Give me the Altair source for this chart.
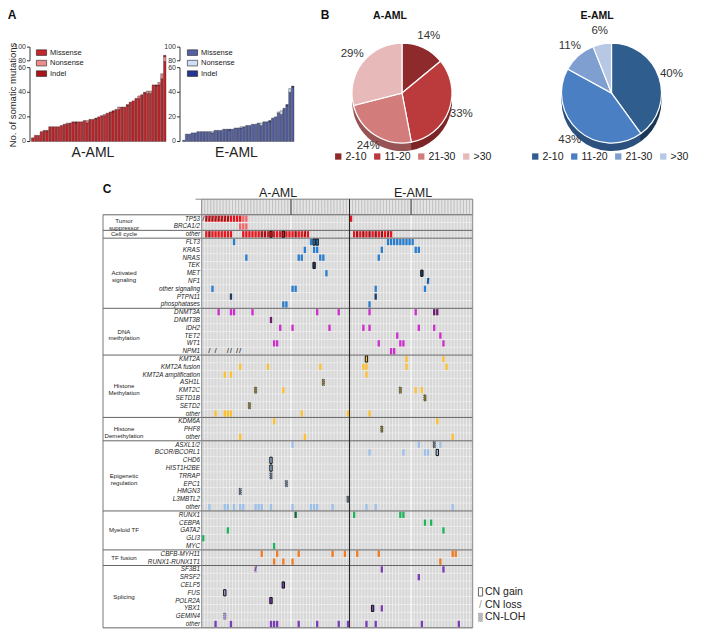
import altair as alt
import pandas as pd

alt.data_transformers.disable_max_rows()

# ---------------- Panel A: somatic mutations per patient ----------------
a_total = [3, 5, 5, 8, 9, 9, 12, 12, 12, 12, 13, 14, 15, 15, 16, 16, 16, 16, 17, 17, 18, 18, 19, 20,
           21, 22, 23, 24, 25, 26, 28, 28, 28, 30, 32, 33, 35, 37, 38, 40, 41, 41, 46, 46, 48, 55, 88]
a_nonsense = [0, 0, 0, 0, 0, 0, 0, 0, 0, 0, 0, 0, 1, 0, 0, 0, 0, 0, 0, 2, 0, 0, 0, 0, 0, 1, 0, 0, 0, 0,
              2, 0, 0, 0, 0, 0, 0, 2, 0, 0, 2, 2, 0, 0, 2, 4, 8]
a_indel = [0, 0, 0, 0, 0, 1, 0, 0, 0, 0, 0, 0, 0, 0, 0, 1, 0, 0, 0, 0, 0, 0, 1, 0, 0, 0, 0, 0, 1, 0,
           0, 0, 0, 1, 0, 0, 0, 0, 0, 1, 0, 0, 0, 1, 0, 0, 2]
e_total = [1, 6, 6, 7, 7, 8, 8, 8, 8, 8, 8, 9, 9, 9, 10, 10, 10, 10, 11, 11, 12, 12, 13, 13, 14, 14,
           15, 15, 16, 16, 17, 19, 20, 24, 25, 27, 30, 43, 45]
e_nonsense = [0, 0, 0, 0, 0, 0, 0, 0, 0, 0, 1, 0, 0, 0, 0, 0, 0, 0, 0, 0, 1, 0, 0, 0, 0, 0, 0, 2, 0, 0,
              0, 0, 0, 1, 3, 0, 0, 3, 0]
e_indel = [0, 0, 0, 0, 0, 0, 0, 0, 0, 0, 0, 0, 0, 0, 0, 0, 1, 0, 0, 0, 0, 0, 0, 0, 0, 0, 0, 0, 0, 0,
           1, 0, 0, 0, 0, 0, 1, 0, 1]
mut_types = ["Missense", "Nonsense", "Indel"]
a_bar_colors = ["#c4262b", "#ee8b8b", "#a8151b"]
e_bar_colors = ["#5561a3", "#cfe0f5", "#26358f"]
axis_ticks = [0, 20, 40, 60, 80, 100]

# ---------------- Panel B: pies ----------------
pie_bins = ["2-10", "11-20", "21-30", ">30"]
a_pct = [14, 33, 24, 29]
e_pct = [40, 43, 11, 6]
a_pie_colors = ["#8e2a2c", "#bb3b3d", "#d27c7c", "#e7b9b9"]
a_pie_side = ["#5a191a", "#7c2527", "#985454", "#b08585"]
e_pie_colors = ["#2f5d8e", "#4a80c3", "#7f9fd0", "#b7c8e4"]
e_pie_side = ["#1b3756", "#2d517f", "#566f99", "#8494ae"]

# ---------------- Panel C: mutation landscape ----------------
genes = ["TP53", "BRCA1/2", "other", "FLT3", "KRAS", "NRAS", "TEK", "MET", "NF1", "other signaling",
         "PTPN11", "phosphatases", "DNMT3A", "DNMT3B", "IDH2", "TET2", "WT1", "NPM1", "KMT2A",
         "KMT2A fusion", "KMT2A  amplification", "ASH1L", "KMT2C", "SETD1B", "SETD2", "other", "KDM6A",
         "PHF8", "other", "ASXL1/2", "BCOR/BCORL1", "CHD6", "HIST1H2BE", "TRRAP", "EPC1", "HMGN3",
         "L3MBTL2", "other", "RUNX1", "CEBPA", "GATA2", "GLI3", "MYC", "CBFB-MYH11", "RUNX1-RUNX1T1",
         "SF3B1", "SRSF2", "CELF5", "FUS", "POLR2A", "YBX1", "GEMIN4", "other"]
group_names = ["Tumor\nsuppressor", "Cell cycle", "Activated\nsignaling", "DNA\nmethylation",
               "Histone\nMethylation", "Histone\nDemethylation", "Epigenetic\nregulation",
               "Myeloid TF", "TF fusion", "Splicing"]
group_bounds = [0, 2, 3, 12, 18, 26, 29, 38, 43, 45, 53]
n_cols_a = 48
n_cols_e = 40
sub_lines = [29, 68]

kinds = ["ts", "ts_d", "ts_l", "sig", "sig_d", "dna", "dna_d", "hm", "hm_loh", "epi", "epi_loh",
         "tf", "tf_d", "fus", "spl", "spl_l"]
kind_colors = ["#e5161d", "#a01016", "#f0676b", "#2a7ccc", "#1c3d66", "#cc2ecc", "#6a1f6e", "#fdbf2f",
               "#7d6f35", "#9cc0e8", "#5d6c80", "#20b25c", "#17663a", "#f27a1e", "#7a3db6", "#b094d8"]

# (row, column, kind, copy-number event)
cells_tumor = [
    (0, 0, "", "loss"),
    (0, 1, "ts", "loss"), (0, 2, "ts", "loss"), (0, 3, "ts", "loss"), (0, 4, "ts", "loss"),
    (0, 5, "ts", "loss"), (0, 6, "ts", "loss"), (0, 7, "ts", "loss"), (0, 8, "ts", "loss"),
    (0, 9, "ts", ""), (0, 10, "ts", ""), (0, 11, "ts", ""), (0, 12, "ts", ""), (0, 13, "ts_l", ""),
    (0, 14, "ts_l", ""), (0, 48, "ts", ""),
    (1, 12, "ts_l", ""), (1, 13, "ts_l", ""), (1, 14, "ts_l", ""),
]
cells_cycle = [
    (2, 1, "ts", ""), (2, 2, "ts_d", ""), (2, 3, "ts", ""), (2, 4, "ts", ""), (2, 5, "ts", ""),
    (2, 6, "ts", ""), (2, 7, "ts", ""), (2, 8, "ts", ""), (2, 9, "ts", ""),
    (2, 13, "ts", ""), (2, 14, "ts", ""), (2, 15, "ts", ""), (2, 16, "ts", ""), (2, 17, "ts", ""),
    (2, 18, "ts", ""), (2, 19, "ts_d", ""), (2, 20, "ts_d", ""), (2, 21, "ts", ""), (2, 22, "ts", "gain"),
    (2, 23, "ts", ""), (2, 24, "ts", ""), (2, 25, "ts", ""), (2, 26, "ts", "gain"), (2, 27, "ts", ""),
    (2, 28, "ts", ""), (2, 29, "ts", ""), (2, 30, "ts_d", ""), (2, 31, "ts", ""), (2, 32, "ts", ""),
    (2, 33, "ts", "loss"), (2, 34, "ts", ""),
    (2, 49, "ts", ""), (2, 50, "ts_d", ""), (2, 51, "ts", ""), (2, 52, "ts_d", ""), (2, 53, "ts", ""),
    (2, 54, "ts_d", ""), (2, 55, "ts", ""), (2, 56, "ts_d", ""), (2, 57, "ts", ""), (2, 58, "ts_d", ""),
    (2, 59, "ts", ""), (2, 60, "ts", "loss"), (2, 61, "ts", ""),
]
cells_signal = [
    (3, 10, "sig", ""), (3, 35, "sig", ""), (3, 36, "sig", "gain"), (3, 37, "sig", "gain"),
    (3, 60, "sig", ""), (3, 61, "sig", ""), (3, 62, "sig", ""), (3, 63, "sig", ""), (3, 64, "sig", ""),
    (3, 65, "sig", ""), (3, 66, "sig", ""), (3, 67, "sig", ""), (3, 68, "sig", ""),
    (4, 33, "sig", ""), (4, 36, "sig", ""), (4, 37, "sig", ""), (4, 58, "sig", ""), (4, 69, "sig", ""),
    (4, 70, "sig", ""),
    (5, 14, "sig", ""), (5, 31, "sig", ""), (5, 32, "sig", ""), (5, 38, "sig", ""), (5, 39, "sig", ""),
    (5, 57, "sig", ""),
    (6, 36, "sig_d", "gain"),
    (7, 40, "sig", ""), (7, 71, "sig_d", "gain"),
    (8, 73, "sig", "loss"),
    (9, 3, "sig", ""), (9, 29, "sig", ""), (9, 30, "sig", ""), (9, 56, "sig", ""), (9, 72, "sig", ""),
    (10, 9, "sig_d", ""), (10, 56, "sig_d", ""),
    (11, 26, "sig", ""), (11, 27, "sig", ""), (11, 54, "sig", ""),
]
cells_dna = [
    (12, 5, "dna", ""), (12, 9, "dna", ""), (12, 10, "dna", ""), (12, 16, "dna", ""), (12, 37, "dna", ""),
    (12, 44, "dna", ""), (12, 54, "dna", ""), (12, 69, "dna", ""), (12, 75, "dna_d", ""),
    (12, 76, "dna_d", ""),
    (13, 22, "dna_d", ""),
    (14, 25, "dna", ""), (14, 29, "dna", ""), (14, 41, "dna", ""), (14, 52, "dna", ""), (14, 54, "dna", ""),
    (14, 70, "dna", ""), (14, 75, "dna", ""),
    (15, 63, "dna", ""), (15, 77, "dna", ""),
    (16, 23, "dna", ""), (16, 24, "dna", ""), (16, 57, "dna", ""), (16, 64, "dna", ""), (16, 65, "dna", ""),
    (16, 78, "dna", ""),
    (17, 2, "", "loss"), (17, 4, "", "loss"), (17, 8, "", "loss"), (17, 9, "", "loss"),
    (17, 11, "", "loss"), (17, 12, "", "loss"), (17, 61, "dna", ""), (17, 62, "dna", ""),
]
cells_hmeth = [
    (18, 53, "hm", "gain"), (18, 66, "hm", ""), (18, 78, "hm", ""),
    (19, 12, "hm", ""), (19, 21, "hm", ""), (19, 38, "hm", ""), (19, 52, "hm", ""), (19, 53, "hm", ""),
    (19, 66, "hm", ""), (19, 79, "hm", ""),
    (20, 7, "hm", ""), (20, 9, "hm", ""), (20, 53, "hm", ""),
    (21, 39, "hm_loh", ""),
    (22, 17, "hm_loh", ""), (22, 26, "hm", ""), (22, 64, "hm_loh", ""), (22, 69, "hm", ""), (22, 71, "hm", ""),
    (23, 72, "hm_loh", ""),
    (24, 15, "hm_loh", ""),
    (25, 4, "hm", ""), (25, 7, "hm", ""), (25, 8, "hm", ""), (25, 9, "hm", ""), (25, 32, "hm", ""),
    (25, 47, "hm", ""), (25, 54, "hm", ""),
]
cells_hdemeth = [
    (26, 23, "hm", ""), (26, 76, "hm", ""),
    (27, 58, "hm_loh", ""),
    (28, 12, "hm", ""), (28, 33, "hm", ""), (28, 81, "hm", ""),
]
cells_epi = [
    (29, 29, "epi", ""), (29, 70, "epi", ""), (29, 75, "epi_loh", ""), (29, 77, "epi", ""),
    (30, 54, "epi", ""), (30, 65, "epi", ""), (30, 72, "epi", ""), (30, 73, "epi", ""), (30, 76, "epi", "gain"),
    (31, 22, "epi", "gain"), (32, 22, "epi", "gain"), (33, 22, "epi_loh", ""),
    (34, 27, "epi_loh", ""), (35, 12, "epi_loh", ""), (36, 47, "epi_loh", ""),
    (37, 2, "epi", ""), (37, 7, "epi", ""), (37, 8, "epi", ""), (37, 10, "epi", ""), (37, 12, "epi", ""),
    (37, 13, "epi", ""), (37, 17, "epi", ""), (37, 18, "epi", ""), (37, 19, "epi", ""), (37, 22, "epi", ""),
    (37, 29, "epi", ""), (37, 35, "epi", ""), (37, 36, "epi", ""), (37, 37, "epi", ""), (37, 42, "epi", ""),
    (37, 53, "epi", ""), (37, 56, "epi", ""), (37, 81, "epi", ""),
]
cells_myeloid = [
    (38, 30, "tf_d", ""), (38, 49, "tf", ""), (38, 64, "tf", ""), (38, 65, "tf", ""),
    (39, 72, "tf", ""), (39, 74, "tf", ""),
    (40, 8, "tf", ""), (40, 78, "tf", ""),
    (41, 0, "tf", ""),
    (42, 23, "tf", ""),
]
cells_fusion = [
    (43, 19, "fus", ""), (43, 24, "fus", ""), (43, 31, "fus", ""), (43, 42, "fus", ""), (43, 46, "fus", ""),
    (43, 50, "fus", ""), (43, 57, "fus", ""), (43, 81, "fus", ""), (43, 82, "fus", ""),
    (44, 23, "fus", ""), (44, 26, "fus", ""), (44, 29, "fus", ""), (44, 77, "fus", ""),
]
cells_splice = [
    (45, 17, "spl_l", "loss"), (45, 58, "spl", ""), (45, 78, "spl", ""),
    (46, 70, "spl", ""),
    (47, 26, "spl", "gain"),
    (48, 7, "spl_l", "gain"),
    (49, 22, "spl", "gain"),
    (50, 55, "spl", "gain"), (50, 58, "spl", ""),
    (51, 7, "spl_l", "loh"),
    (52, 4, "spl", ""), (52, 9, "spl", ""), (52, 22, "spl", ""), (52, 23, "spl", ""), (52, 24, "spl", ""),
    (52, 31, "spl", ""), (52, 37, "spl", ""), (52, 44, "spl", ""), (52, 47, "spl", ""), (52, 53, "spl", ""),
    (52, 56, "spl", ""), (52, 71, "spl", ""), (52, 83, "spl", ""),
]
cn_labels = ["CN gain", "CN loss", "CN-LOH"]

# ---------------- layout helpers ----------------
W, H = 693, 622
SY = 0.978
FONT = "Liberation Sans"


def X(v):
    return v - 8


def Y(v):
    return (v - 8) * SY


layers = []

# ---------- Panel A ----------
ybar = alt.Scale(domain=[0, 60, 80, 100], range=[Y(144.5), Y(69), Y(62), Y(48)], nice=False, zero=False)


def bar_long(total, nons, indel):
    recs = []
    for i, (t, n, d) in enumerate(zip(total, nons, indel)):
        for name, v, o in (("Missense", t - n - d, 0), ("Nonsense", n, 1), ("Indel", d, 2)):
            if v > 0:
                recs.append({"idx": i, "type": name, "count": v, "ord": o})
    return pd.DataFrame(recs)


def bar_panel(total, nons, indel, colors, x0, x1, axis_x, legend_x):
    n = len(total)
    df = bar_long(total, nons, indel)
    out = [alt.Chart(df).mark_bar(stroke="#1a1a1a", strokeWidth=0.35).encode(
        x=alt.X("idx:O", scale=alt.Scale(domain=list(range(n)), range=[X(x0), X(x1)],
                                         paddingInner=0.15, paddingOuter=0), axis=None),
        y=alt.Y("count:Q", stack="zero", scale=ybar, axis=None),
        color=alt.Color("type:N", scale=alt.Scale(domain=mut_types, range=colors),
                        legend=alt.Legend(orient="none", legendX=X(legend_x), legendY=Y(48), title=None,
                                          symbolType="M-1,-0.55L1,-0.55L1,0.55L-1,0.55Z", symbolSize=105,
                                          symbolStrokeColor="#222", symbolStrokeWidth=0.6,
                                          labelFontSize=7.5, labelFont=FONT, labelColor="#222",
                                          rowPadding=0.5, labelOffset=3, padding=0)),
        order=alt.Order("ord:Q"),
    )]
    seg = pd.DataFrame({"lo": [0, 80], "hi": [60, 100]})
    out.append(alt.Chart(seg).mark_rule(color="#222", strokeWidth=0.9).encode(
        x=alt.value(X(axis_x)), y=alt.Y("lo:Q", scale=ybar, axis=None), y2="hi:Q"))
    tk = pd.DataFrame({"v": axis_ticks, "lab": [str(v) for v in axis_ticks]})
    out.append(alt.Chart(tk).mark_rule(color="#222", strokeWidth=0.9).encode(
        x=alt.value(X(axis_x - 3)), x2=alt.value(X(axis_x)), y=alt.Y("v:Q", scale=ybar, axis=None)))
    out.append(alt.Chart(tk).mark_text(align="right", baseline="middle", fontSize=7, color="#333").encode(
        x=alt.value(X(axis_x - 4)), y=alt.Y("v:Q", scale=ybar, axis=None), text="lab:N"))
    return out


layers += bar_panel(a_total, a_nonsense, a_indel, a_bar_colors, 31.5, 166, 30, 36)
layers += bar_panel(e_total, e_nonsense, e_indel, e_bar_colors, 182.5, 294, 180, 187)

# ---------- Panel B ----------
R = 50


def pie_panel(pcts, top_cols, side_cols, cx, cy, legend_x):
    df = pd.DataFrame({"bin": pie_bins, "pct": pcts, "i": list(range(len(pcts))),
                       "lab": [f"{p}%" for p in pcts]})
    th = alt.Theta("pct:Q", stack=True)
    out = []
    for off in (8, 5.5, 3):
        out.append(alt.Chart(df).mark_arc(outerRadius=R).encode(
            theta=th,
            color=alt.Color("bin:N", scale=alt.Scale(domain=pie_bins, range=side_cols), legend=None),
            order=alt.Order("i:Q"), x=alt.value(cx), y=alt.value(cy + off)))
    out.append(alt.Chart(df).mark_arc(outerRadius=R, stroke="white", strokeWidth=1.2).encode(
        theta=th,
        color=alt.Color("bin:N", scale=alt.Scale(domain=pie_bins, range=top_cols),
                        legend=alt.Legend(orient="none", legendX=legend_x, legendY=Y(160.5) - 6,
                                          direction="horizontal", title=None, symbolType="square",
                                          symbolSize=40, symbolStrokeWidth=0, labelFontSize=10.5,
                                          labelFont=FONT, labelColor="#222", columnPadding=5,
                                          labelOffset=2, padding=0)),
        order=alt.Order("i:Q"), x=alt.value(cx), y=alt.value(cy)))
    out.append(alt.Chart(df).mark_text(radius=R + 13, fontSize=11.5, color="#333").encode(
        theta=th, detail="bin:N", order=alt.Order("i:Q"), text="lab:N",
        x=alt.value(cx), y=alt.value(cy)))
    return out


layers += pie_panel(a_pct, a_pie_colors, a_pie_side, X(402), Y(95), X(333))
layers += pie_panel(e_pct, e_pie_colors, e_pie_side, X(611.5), Y(95), X(530))

# ---------- Panel C ----------
n_cols = n_cols_a + n_cols_e
n_rows = len(genes)
hm_x = alt.Scale(domain=[0, n_cols], range=[X(201.7), X(472.7)], nice=False, zero=False)
hm_y = alt.Scale(domain=[-2, n_rows], range=[Y(203.5), Y(641.8)], nice=False, zero=False)

header = pd.DataFrame({"c": list(range(n_cols))})
header["c2"] = header["c"] + 1
header["r"] = -2
header["r2"] = 0
layers.append(alt.Chart(header).mark_rect(fill="#e4e4e4", stroke="#a5a5a5", strokeWidth=0.45).encode(
    x=alt.X("c:Q", scale=hm_x, axis=None), x2="c2:Q",
    y=alt.Y("r:Q", scale=hm_y, axis=None), y2="r2:Q"))

bg = pd.DataFrame([{"c": c, "c2": c + 1, "r": r, "r2": r + 1} for r in range(n_rows) for c in range(n_cols)])
layers.append(alt.Chart(bg).mark_rect(fill="#d7d7d7", stroke="#f4f4f4", strokeWidth=0.45).encode(
    x=alt.X("c:Q", scale=hm_x, axis=None), x2="c2:Q",
    y=alt.Y("r:Q", scale=hm_y, axis=None), y2="r2:Q"))

# white sub-group gaps
sub_df = pd.DataFrame({"c": sub_lines, "y0": [0, 0], "y1": [n_rows, n_rows]})
layers.append(alt.Chart(sub_df).mark_rule(color="#ffffff", strokeWidth=1.1).encode(
    x=alt.X("c:Q", scale=hm_x, axis=None), y=alt.Y("y0:Q", scale=hm_y, axis=None), y2="y1:Q"))

all_cells = (cells_tumor + cells_cycle + cells_signal + cells_dna + cells_hmeth + cells_hdemeth
             + cells_epi + cells_myeloid + cells_fusion + cells_splice)
cells = pd.DataFrame(all_cells, columns=["row", "col", "kind", "cn"])
cells["c0"] = cells["col"] + 0.12
cells["c1"] = cells["col"] + 0.88
cells["r0"] = cells["row"] + 0.1
cells["r1"] = cells["row"] + 0.9
cells["cm"] = cells["col"] + 0.5
cells["rm"] = cells["row"] + 0.5

filled = cells[cells["kind"] != ""]
layers.append(alt.Chart(filled).mark_rect().encode(
    x=alt.X("c0:Q", scale=hm_x, axis=None), x2="c1:Q",
    y=alt.Y("r0:Q", scale=hm_y, axis=None), y2="r1:Q",
    color=alt.Color("kind:N", scale=alt.Scale(domain=kinds, range=kind_colors), legend=None)))

loh = cells[cells["kind"].str.endswith("_loh") | (cells["cn"] == "loh")]
layers.append(alt.Chart(loh).mark_rect(fillOpacity=0, stroke="#2a2a2a", strokeWidth=0.6,
                                       strokeDash=[1, 1]).encode(
    x=alt.X("c0:Q", scale=hm_x, axis=None), x2="c1:Q",
    y=alt.Y("r0:Q", scale=hm_y, axis=None), y2="r1:Q"))

gain = cells[cells["cn"] == "gain"]
layers.append(alt.Chart(gain).mark_rect(fillOpacity=0, stroke="#111111", strokeWidth=1.0).encode(
    x=alt.X("c0:Q", scale=hm_x, axis=None), x2="c1:Q",
    y=alt.Y("r0:Q", scale=hm_y, axis=None), y2="r1:Q"))

loss = cells[cells["cn"] == "loss"]
layers.append(alt.Chart(loss).mark_text(text="/", fontSize=8, color="#1a1a1a", baseline="middle").encode(
    x=alt.X("cm:Q", scale=hm_x, axis=None), y=alt.Y("rm:Q", scale=hm_y, axis=None)))

# borders and group separators
sep = pd.DataFrame({"b": group_bounds})
layers.append(alt.Chart(sep).mark_rule(color="#555555", strokeWidth=0.9).encode(
    x=alt.value(X(103)), x2=alt.value(X(472.7)), y=alt.Y("b:Q", scale=hm_y, axis=None)))
box = pd.DataFrame({"y0": [0], "y1": [n_rows]})
layers.append(alt.Chart(box).mark_rule(color="#666666", strokeWidth=0.9).encode(
    x=alt.value(X(103)), y=alt.Y("y0:Q", scale=hm_y, axis=None), y2="y1:Q"))
vlines = pd.DataFrame({"c": [0, n_cols], "y0": [-2, -2], "y1": [n_rows, n_rows]})
layers.append(alt.Chart(vlines).mark_rule(color="#8a8a8a", strokeWidth=1.0).encode(
    x=alt.X("c:Q", scale=hm_x, axis=None), y=alt.Y("y0:Q", scale=hm_y, axis=None), y2="y1:Q"))
hline = pd.DataFrame({"b": [-2]})
layers.append(alt.Chart(hline).mark_rule(color="#8a8a8a", strokeWidth=1.0).encode(
    x=alt.X("b:Q", scale=hm_x, axis=None), x2=alt.datum(n_cols),
    y=alt.Y("b:Q", scale=hm_y, axis=None)))
div = pd.DataFrame({"c": [n_cols_a], "y0": [-2], "y1": [n_rows]})
layers.append(alt.Chart(div).mark_rule(color="#222222", strokeWidth=1.0).encode(
    x=alt.X("c:Q", scale=hm_x, axis=None), y=alt.Y("y0:Q", scale=hm_y, axis=None), y2="y1:Q"))
hsub = pd.DataFrame({"c": sub_lines, "y0": [-2, -2], "y1": [0, 0]})
layers.append(alt.Chart(hsub).mark_rule(color="#333333", strokeWidth=0.9).encode(
    x=alt.X("c:Q", scale=hm_x, axis=None), y=alt.Y("y0:Q", scale=hm_y, axis=None), y2="y1:Q"))

# gene labels
gdf = pd.DataFrame({"g": genes, "yc": [i + 0.5 for i in range(n_rows)]})
layers.append(alt.Chart(gdf).mark_text(align="right", baseline="middle", fontSize=6.3, fontStyle="italic",
                                       color="#222").encode(
    x=alt.value(X(200)), y=alt.Y("yc:Q", scale=hm_y, axis=None), text="g:N"))
grp_y = [(group_bounds[i] + group_bounds[i + 1]) / 2 for i in range(len(group_names))]
grp_y[0] = 0.8  # keep the two-line "Tumor suppressor" clear of "Cell cycle"
grp = pd.DataFrame({"t": group_names, "yc": grp_y})
layers.append(alt.Chart(grp).mark_text(align="center", baseline="middle", fontSize=6.1, lineBreak="\n",
                                       lineHeight=6.8, color="#222").encode(
    x=alt.value(X(124)), y=alt.Y("yc:Q", scale=hm_y, axis=None), text="t:N"))

# CN legend
cn_df = pd.DataFrame({"t": cn_labels, "x": [X(485)] * 3, "y": [Y(605), Y(618), Y(631)]})
ident_x = alt.X("x:Q", scale=None, axis=None)
ident_y = alt.Y("y:Q", scale=None, axis=None)
layers.append(alt.Chart(cn_df).mark_text(align="left", baseline="middle", fontSize=10.5, color="#222").encode(
    x=ident_x, y=ident_y, text="t:N"))
sym = pd.DataFrame({"x": [X(480.5)], "y": [Y(605)]})
layers.append(alt.Chart(sym).mark_point(shape="M-0.5,-1L0.5,-1L0.5,1L-0.5,1Z", filled=False,
                                        stroke="#111", strokeWidth=0.9, size=70).encode(x=ident_x, y=ident_y))
sym2 = pd.DataFrame({"x": [X(480.5)], "y": [Y(618)]})
layers.append(alt.Chart(sym2).mark_text(text="/", fontSize=10, color="#999999", baseline="middle").encode(
    x=ident_x, y=ident_y))
sym3 = pd.DataFrame({"x": [X(480.5)], "y": [Y(631)]})
layers.append(alt.Chart(sym3).mark_point(shape="M-0.5,-1L0.5,-1L0.5,1L-0.5,1Z", filled=True,
                                         fill="#9a9a9a", stroke="#555", strokeWidth=0.5, strokeDash=[1, 1],
                                         size=70).encode(x=ident_x, y=ident_y))

# ---------- free texts ----------
plain = pd.DataFrame([
    {"t": "A-AML", "x": X(93), "y": Y(156), "s": 14},
    {"t": "E-AML", "x": X(236.5), "y": Y(156), "s": 14},
    {"t": "A-AML", "x": X(278), "y": Y(197.5), "s": 12.5},
    {"t": "E-AML", "x": X(413), "y": Y(197.5), "s": 12.5},
])
layers.append(alt.Chart(plain).mark_text(align="center", baseline="middle", color="#222").encode(
    x=ident_x, y=ident_y, size=alt.Size("s:Q", scale=None, legend=None), text="t:N"))
bold = pd.DataFrame([
    {"t": "A", "x": 4, "y": 7, "s": 12},
    {"t": "B", "x": X(325), "y": 7, "s": 12},
    {"t": "C", "x": X(107), "y": Y(193), "s": 12},
    {"t": "A-AML", "x": X(390), "y": Y(16), "s": 10.5},
    {"t": "E-AML", "x": X(597), "y": Y(16), "s": 10.5},
])
layers.append(alt.Chart(bold).mark_text(align="center", baseline="middle", fontWeight="bold",
                                        color="#111").encode(
    x=ident_x, y=ident_y, size=alt.Size("s:Q", scale=None, legend=None), text="t:N"))
ytitle = pd.DataFrame([{"t": "No. of somatic mutations", "x": 4.5, "y": Y(97), "s": 9.5}])
layers.append(alt.Chart(ytitle).mark_text(align="center", baseline="middle", angle=270, color="#222").encode(
    x=ident_x, y=ident_y, size=alt.Size("s:Q", scale=None, legend=None), text="t:N"))

chart = alt.layer(*layers).resolve_scale(
    x="independent", y="independent", color="independent", theta="independent", size="independent"
).properties(
    width=W, height=H, padding=0, autosize=alt.AutoSizeParams(type="none")
).configure(font=FONT).configure_view(stroke=None)

chart.save("out.html", embed_options={"renderer": "svg", "actions": False})
